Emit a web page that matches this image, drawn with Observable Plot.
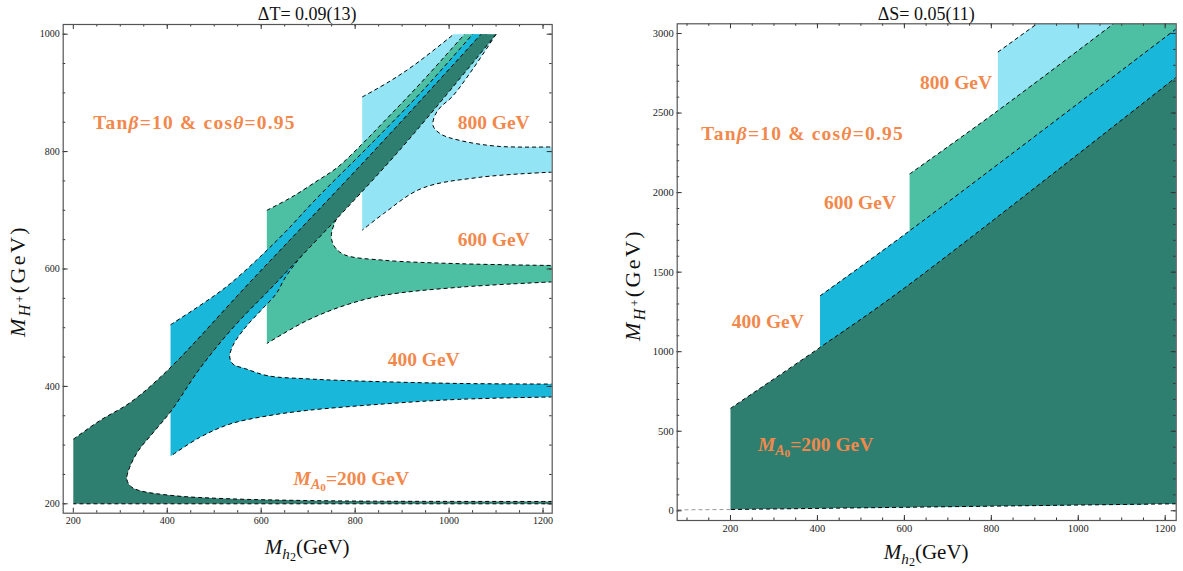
<!DOCTYPE html>
<html><head><meta charset="utf-8">
<script src="https://cdn.jsdelivr.net/npm/d3@7"></script>
<script src="https://cdn.jsdelivr.net/npm/@observablehq/plot@0.6"></script>
<style>
html,body{margin:0;padding:0;background:#fff}
#fig{position:relative;width:1183px;height:571px;overflow:hidden;font-family:"Liberation Serif","Times New Roman",serif}
.panel{position:absolute;top:0}
.t{position:absolute;white-space:nowrap;transform:translate(-50%,-50%);line-height:1}
.note{color:#F2884B;font-weight:bold;font-size:19.5px}
.wide{letter-spacing:1.2px}
.ttl{font-size:18px;color:#111}
.axl{font-size:21px;color:#111}
.ayl{font-size:22px;color:#111;letter-spacing:2.4px}
.rot{transform:translate(-50%,-50%) rotate(-90deg)}
sub{font-size:0.72em;vertical-align:-0.3em;line-height:0}
sub sub{font-size:0.8em;vertical-align:-0.2em}
sup{font-size:0.75em;vertical-align:0.5em;line-height:0}
</style></head>
<body><div id="fig"><div id="left" class="panel" style="left:0px"></div><div id="right" class="panel" style="left:590px"></div></div>
<script>
// ---------------- ΔT panel (left): boundary curves [M_h2, M_H+] in GeV ----------------
const dT_xTicks = [200, 400, 600, 800, 1000, 1200];
const dT_yTicks = [200, 400, 600, 800, 1000];
const dT_800_upper = [[815,893],[870,918],[925,947],[1010,1000]];
const dT_800_inner = [[1100,1000],[1050,940],[1006,893],[982,876],[970,862],[966,844],[982,830],[1023,819],[1104,809],[1220,808]];
const dT_800_lower = [[1220,765],[1063,756],[941,737],[860,694],[815,666]];
const dT_600_upper = [[612,700],[664,722],[721,751],[762,773],[815,813],[860,850],[941,918],[1033,1000]];
const dT_600_inner = [[1080,1000],[980,900],[880,800],[815,739],[790,716],[762,688],[750,662],[750,650],[757,637],[778,624],[860,615],[1023,609],[1220,606]];
const dT_600_lower = [[1220,578],[1023,569],[860,555],[778,538],[697,512],[612,473]];
const dT_400_upper = [[407,505],[453,529],[501,555],[534,575],[590,615],[650,662],[720,722],[830,810],[945,905],[1050,1000]];
const dT_400_inner = [[1080,1000],[870,800],[655,590],[632,558],[599,529],[567,501],[540,470],[533,450],[540,438],[567,430],[615,418],[697,413],[778,410],[1023,405],[1220,404]];
const dT_400_lower = [[1220,382],[1023,378],[860,370],[697,359],[615,350],[534,336],[469,313],[407,281]];
const dT_200_upper = [[200,310],[257,342],[322,373],[404,430],[579,580],[839,800],[1068,1000]];
const dT_200_inner = [[1100,1000],[892,800],[636,580],[540,500],[469,430],[410,360],[371,322],[339,291],[320,262],[314,242],[322,230],[339,223],[412,214],[534,208.5],[697,205.6],[860,204.4],[1220,204]];
const dT_200_lower = [[1220,200],[200,200]];

// ---------------- ΔS panel (right) ----------------
const dS_xTicks = [200, 400, 600, 800, 1000, 1200];
const dS_yTicks = [0, 500, 1000, 1500, 2000, 2500, 3000];
const dS_800_upper = [[815,2883],[905,3061]];
const dS_800_cap = [[1225,3061]];
const dS_800_floor = [[1225,44],[815,29]];
const dS_600_upper = [[612,2117],[815,2515],[1081,3061]];
const dS_600_cap = [[1225,3061]];
const dS_600_floor = [[1225,44],[612,22]];
const dS_400_upper = [[406,1351],[612,1760],[1225,3029]];
const dS_400_cap = [];
const dS_400_floor = [[1225,44],[406,15]];
const dS_200_upper = [[200,644],[406,1027],[600,1400],[1225,2725]];
const dS_200_cap = [];
const dS_200_floor = [[1225,44],[200,8]];
const dS_floor_ext = [[200,8],[77,6]];

const mA0 = [800, 600, 400, 200];
const COL = {800: "#93E4F4", 600: "#4DC0A4", 400: "#19B8DA", 200: "#2F7F70"};

const dT_regions = [
  {m: 800, parts: [dT_800_upper, dT_800_inner, dT_800_lower], dashed: [dT_800_upper, dT_800_inner, dT_800_lower]},
  {m: 600, parts: [dT_600_upper, dT_600_inner, dT_600_lower], dashed: [dT_600_upper, dT_600_inner, dT_600_lower]},
  {m: 400, parts: [dT_400_upper, dT_400_inner, dT_400_lower], dashed: [dT_400_upper, dT_400_inner, dT_400_lower]},
  {m: 200, parts: [dT_200_upper, dT_200_inner, dT_200_lower], dashed: [dT_200_upper, dT_200_inner, dT_200_lower]}
];
const dS_regions = [
  {m: 800, parts: [dS_800_upper, dS_800_cap, dS_800_floor], dashed: [dS_800_upper]},
  {m: 600, parts: [dS_600_upper, dS_600_cap, dS_600_floor], dashed: [dS_600_upper]},
  {m: 400, parts: [dS_400_upper, dS_400_cap, dS_400_floor], dashed: [dS_400_upper]},
  {m: 200, parts: [dS_200_upper, dS_200_cap, dS_200_floor], dashed: [dS_200_upper, dS_200_floor]}
];

const dup = a => a.length ? [a[0], ...a, a[a.length - 1]] : [];
const outline = parts => parts.flatMap(dup);
const X = d => d[0], Y = d => d[1];

function regionMarks(regions) {
  const marks = [];
  for (const r of regions) {
    marks.push(Plot.line(outline(r.parts), {x: X, y: Y, fill: COL[r.m], stroke: "none", curve: "catmull-rom", clip: true}));
    for (const c of r.dashed) {
      marks.push(Plot.line(c, {x: X, y: Y, stroke: "#000", strokeWidth: 1, strokeDasharray: "4,3", strokeLinecap: "butt", curve: "catmull-rom", clip: true}));
    }
  }
  return marks;
}

function frameMarks(xMaj, xMin, yMaj, yMin, iw, ih, padX, padY) {
  const tc = "#333", m = [];
  for (const [v, len] of [[xMaj, 5], [xMin, 2.5]]) {
    m.push(Plot.tickX(v, {x: d => d, insetTop: ih - len, stroke: tc}));
    m.push(Plot.tickX(v, {x: d => d, insetBottom: ih - len, stroke: tc}));
  }
  for (const [v, len] of [[yMaj, 5], [yMin, 2.5]]) {
    m.push(Plot.tickY(v, {y: d => d, insetRight: iw - len, stroke: tc}));
    m.push(Plot.tickY(v, {y: d => d, insetLeft: iw - len, stroke: tc}));
  }
  m.push(Plot.text(xMaj, {x: d => d, text: d => String(d), frameAnchor: "bottom", lineAnchor: "top", dy: padX, fill: "#222"}));
  m.push(Plot.text(yMaj, {y: d => d, text: d => String(d), frameAnchor: "left", textAnchor: "end", dx: -padY, fill: "#222"}));
  m.push(Plot.frame({stroke: "#555", strokeWidth: 1.2}));
  return m;
}

// ---- left plot ----
const L = {w: 565, h: 571, ml: 62.7, mr: 13.3, mt: 24, mb: 58.3};
const leftPlot = Plot.plot({
  width: L.w, height: L.h, marginLeft: L.ml, marginRight: L.mr, marginTop: L.mt, marginBottom: L.mb,
  x: {domain: [178.5, 1219.5], axis: null}, y: {domain: [184, 1016.5], axis: null},
  style: {fontFamily: "'Liberation Serif', serif", fontSize: "10px", background: "transparent"},
  marks: [
    ...regionMarks(dT_regions),
    ...frameMarks(dT_xTicks, d3.range(250, 1220, 50), dT_yTicks, d3.range(200, 1016, 50),
      L.w - L.ml - L.mr, L.h - L.mt - L.mb, 4, 3.5)
  ]
});
document.getElementById("left").appendChild(leftPlot);

// ---- right plot ----
const R = {w: 593, h: 571, ml: 86.7, mr: 7.3, mt: 23.3, mb: 51};
const rightPlot = Plot.plot({
  width: R.w, height: R.h, marginLeft: R.ml, marginRight: R.mr, marginTop: R.mt, marginBottom: R.mb,
  x: {domain: [77.4, 1225.3], axis: null}, y: {domain: [-61, 3061], axis: null},
  style: {fontFamily: "'Liberation Serif', serif", fontSize: "10.5px", background: "transparent"},
  marks: [
    Plot.line(dS_floor_ext, {x: X, y: Y, stroke: "#999", strokeWidth: 1, strokeDasharray: "4,3", strokeLinecap: "butt", clip: true}),
    ...regionMarks(dS_regions),
    ...frameMarks(dS_xTicks, d3.range(100, 1225, 50), dS_yTicks, d3.range(0, 3061, 100),
      R.w - R.ml - R.mr, R.h - R.mt - R.mb, 4, 3.4)
  ]
});
document.getElementById("right").appendChild(rightPlot);

// ---- text overlays ----
const fig = document.getElementById("fig");
function addText(html, left, top, cls) {
  const d = document.createElement("div");
  d.className = "t " + cls;
  d.innerHTML = html;
  d.style.left = left + "px";
  d.style.top = top + "px";
  fig.appendChild(d);
}
const MA = "<i>M</i><sub><i>A</i><sub>0</sub></sub>=200 GeV";
const TB = "Tan<i>β</i>=10 &amp; cos<i>θ</i>=0.95";
const dT_notes = [[TB, 459, 848, "wide"], ["800 GeV", 1096, 848, ""], ["600 GeV", 1096, 648, ""], ["400 GeV", 947, 444, ""], [MA, 793, 241, ""]];
const dS_notes = [["800 GeV", 720, 2684, ""], [TB, 367, 2363, "wide"], ["600 GeV", 499, 1930, ""], ["400 GeV", 287, 1185, ""], [MA, 397, 410, ""]];

function decorate(plot, left, notes, title, xlab, ylab, xlabY, ylabX) {
  const sx = plot.scale("x"), sy = plot.scale("y");
  for (const [h, x, y, c] of notes) addText(h, left + sx.apply(x), sy.apply(y), "note " + c);
  const [r0, r1] = sx.range;
  const mid = left + (r0 + r1) / 2;
  const [b, t] = sy.range;
  addText(title, mid, 14, "ttl");
  addText(xlab, mid, xlabY, "axl");
  addText(ylab, ylabX, (b + t) / 2 + 13, "ayl rot");
}
const XL = "<i>M</i><sub><i>h</i><sub>2</sub></sub>(GeV)";
const YL = "<i>M</i><sub><i>H</i><sup>+</sup></sub>(GeV)";
decorate(leftPlot, 0, dT_notes, "ΔT= 0.09(13)", XL, YL, 547, 18);
decorate(rightPlot, 590, dS_notes, "ΔS= 0.05(11)", XL, YL, 552, 633);
</script>
</body></html>
